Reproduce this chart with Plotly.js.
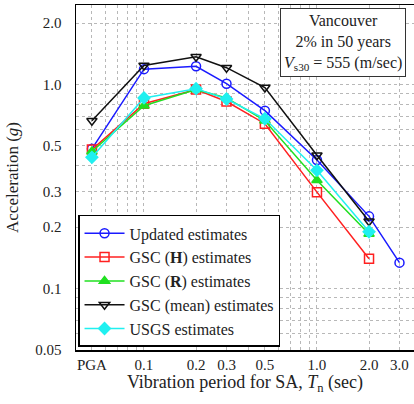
<!DOCTYPE html>
<html>
<head>
<meta charset="utf-8">
<script src="https://cdn.plot.ly/plotly-3.0.1.min.js"></script>
<style>html,body{margin:0;padding:0;background:#fff;}#chart{width:414px;height:404px;}</style>
</head>
<body>
<div id="chart"></div>
<script>
// Periods (PGA plotted at 0.05 s on the log axis)
var periods = [0.05, 0.1, 0.2, 0.3, 0.5, 1.0, 2.0, 3.0];
var periodsGSC = [0.05, 0.1, 0.2, 0.3, 0.5, 1.0, 2.0];
var xTickVals = [0.05, 0.1, 0.2, 0.3, 0.5, 1.0, 2.0, 3.0];
var xTickText = ['PGA', '0.1', '0.2', '0.3', '0.5', '1.0', '2.0', '3.0'];
var yTickVals = [0.05, 0.1, 0.2, 0.3, 0.5, 1.0, 2.0];
var yTickText = ['0.05', '0.1', '0.2', '0.3', '0.5', '1.0', '2.0'];

var updated = [0.484, 1.19, 1.23, 1.01, 0.745, 0.427, 0.226, 0.134];
var gscH    = [0.48, 0.806, 0.945, 0.826, 0.643, 0.297, 0.140];
var gscR    = [0.47, 0.788, 0.945, 0.86, 0.665, 0.340, 0.185];
var gscMean = [0.665, 1.24, 1.37, 1.21, 0.967, 0.45, 0.214];
var usgs    = [0.44, 0.86, 0.955, 0.85, 0.68, 0.38, 0.19];

var names = ['Updated estimates', 'GSC (<b>H</b>) estimates', 'GSC (<b>R</b>) estimates',
             'GSC (mean) estimates', 'USGS estimates'];

function tr(x, y, name, color, symbol) {
  return {
    x: x, y: y, name: name, type: 'scatter', mode: 'lines+markers',
    line: {color: color, width: 1.5},
    marker: {symbol: symbol, size: 9, color: color, line: {color: color, width: 1.5}}
  };
}

var data = [
  tr(periods, updated, names[0], '#1a1aff', 'circle-open'),
  tr(periodsGSC, gscH, names[1], '#ff2020', 'square-open'),
  tr(periodsGSC, gscR, names[2], '#20e020', 'triangle-up'),
  tr(periodsGSC, gscMean, names[3], '#111111', 'triangle-down-open'),
  tr(periodsGSC, usgs, names[4], '#20f0f0', 'diamond')
];

var minorX = [0.04, 0.06, 0.07, 0.08, 0.09, 0.4, 0.6, 0.7, 0.8, 0.9];
var minorY = [0.06, 0.07, 0.08, 0.09, 0.4, 0.6, 0.7, 0.8, 0.9];
var gridStyle = {gridcolor: '#b8b8b8', griddash: 'dot', gridwidth: 1};

var font = 'Liberation Serif, Times New Roman, serif';

var layout = {
  width: 414, height: 404,
  margin: {l: 76, r: 0, t: 5, b: 54},
  paper_bgcolor: '#fff', plot_bgcolor: '#fff',
  font: {family: font, size: 15, color: '#222'},
  showlegend: true,
  xaxis: {
    type: 'log', range: [-1.393, 0.561],
    tickmode: 'array', tickvals: xTickVals, ticktext: xTickText,
    showgrid: true, gridcolor: '#b8b8b8', griddash: 'dot', gridwidth: 1,
    minor: Object.assign({tickmode: 'array', tickvals: minorX, showgrid: true, ticks: ''}, gridStyle),
    showline: true, linecolor: '#000', linewidth: 1.5, mirror: true,
    ticks: '', zeroline: false,
    tickfont: {family: font, size: 15, color: '#222'},
    title: {text: 'Vibration period for SA, <i>T</i><sub>n</sub> (sec)', font: {family: font, size: 18, color: '#222'}, standoff: 3}
  },
  yaxis: {
    type: 'log', range: [-1.301, 0.39],
    tickmode: 'array', tickvals: yTickVals, ticktext: yTickText,
    showgrid: true, gridcolor: '#b8b8b8', griddash: 'dot', gridwidth: 1,
    minor: Object.assign({tickmode: 'array', tickvals: minorY, showgrid: true, ticks: ''}, gridStyle),
    showline: true, linecolor: '#000', linewidth: 1.5, mirror: true,
    ticks: '', zeroline: false, ticklabelstandoff: 10,
    tickfont: {family: font, size: 15, color: '#222'},
    title: {text: 'Acceleration (<i>g</i>)', font: {family: font, size: 17, color: '#222'}, standoff: 12}
  },
  legend: {
    x: 0.006, y: 0.009, xanchor: 'left', yanchor: 'bottom',
    bgcolor: '#fff', bordercolor: '#000', borderwidth: 1.5,
    font: {family: font, size: 16, color: '#222'},
    itemwidth: 40
  },
  annotations: [{
    xref: 'paper', yref: 'paper', x: 0.976, y: 0.991, xanchor: 'right', yanchor: 'top',
    text: 'Vancouver<br>2% in 50 years<br><i>V</i><sub>s30</sub> = 555 (m/sec)',
    showarrow: false, align: 'center',
    font: {family: font, size: 16, color: '#222'},
    bgcolor: '#fff', bordercolor: '#333', borderwidth: 1, borderpad: 3
  }]
};

Plotly.newPlot('chart', data, layout, {displayModeBar: false, staticPlot: true});
</script>
</body>
</html>
